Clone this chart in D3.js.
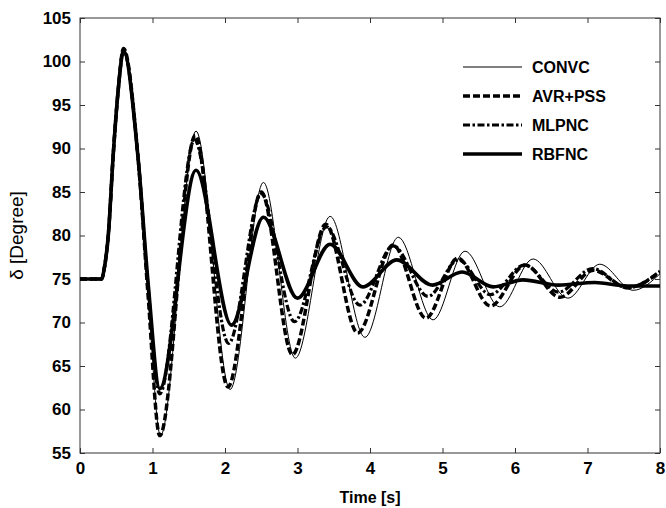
<!DOCTYPE html>
<html>
<head>
<meta charset="utf-8">
<script src="https://cdn.jsdelivr.net/npm/d3@7"></script>
<style>
  body { margin: 0; background: #fff; }
  text { font-family: "Liberation Sans", Arial, sans-serif; }
</style>
</head>
<body>
<div id="chart"></div>
<script>
// series: [time (s), delta (degree)]
const convc = [[0,75],[0.30,75],[0.33,76],[0.39,80],[0.46,89.5],[0.53,97],[0.60,101.5],[0.80,89],[0.94,73],[1.11,57],
  [1.60,92],[2.07,62.3],[2.53,86.1],[2.97,65.9],[3.45,82.2],[3.93,68.3],[4.39,79.8],[4.87,70.3],[5.31,78.2],
  [5.79,71.8],[6.25,77.3],[6.73,72.8],[7.17,76.7],[7.63,73.7],[8.0,75.6]];
const avrPss = [[0,75],[0.30,75],[0.33,76],[0.39,80],[0.46,89.5],[0.53,97],[0.60,101.5],[0.80,89],[0.94,73],[1.10,57],
  [1.59,91.5],[2.04,62.6],[2.50,85],[2.93,66.3],[3.39,81.3],[3.83,68.8],[4.32,78.9],[4.77,70.5],[5.21,77.4],
  [5.66,71.9],[6.14,76.6],[6.62,72.9],[7.08,76.0],[7.55,74.0],[8.0,75.8]];
const mlpnc = [[0,75],[0.30,75],[0.33,76],[0.39,80],[0.46,89.5],[0.53,97],[0.60,101.3],[0.80,89],[0.94,74],[1.10,61.8],
  [1.58,91],[2.05,67.6],[2.50,84.8],[2.96,70.1],[3.40,81],[3.86,72],[4.32,78.8],[4.80,73.0],[5.22,77.2],
  [5.66,73.2],[6.13,76.6],[6.60,73.5],[7.07,76.2],[7.55,74.0],[8.0,75.9]];
const rbfnc = [[0,75],[0.30,75],[0.33,76],[0.39,80],[0.46,89.5],[0.53,97],[0.60,101.2],[0.80,89],[0.94,74.5],[1.10,62.4],
  [1.60,87.5],[2.09,69.7],[2.53,82.1],[3.00,72.8],[3.45,79.0],[3.90,74.1],[4.37,77.2],[4.86,74.3],[5.27,75.8],
  [5.70,74.1],[6.11,74.9],[6.60,74.3],[7.10,74.6],[7.55,74.2],[8.0,74.2]];

const seriesNames = ['CONVC', 'AVR+PSS', 'MLPNC', 'RBFNC'];
const xTicks = [0, 1, 2, 3, 4, 5, 6, 7, 8];
const yTicks = [55, 60, 65, 70, 75, 80, 85, 90, 95, 100, 105];

const W = 666, H = 508;
const margin = {top: 18, right: 6, bottom: 55, left: 80};
const width = W - margin.left - margin.right;
const height = H - margin.top - margin.bottom;

const svg = d3.select('#chart').append('svg')
  .attr('width', W)
  .attr('height', H);
const g = svg.append('g')
  .attr('transform', 'translate(' + margin.left + ',' + margin.top + ')');

const x = d3.scaleLinear().domain([0, 8]).range([0, width]);
const y = d3.scaleLinear().domain([55, 105]).range([height, 0]);

// inward ticks on all sides
const tickLen = 5;
g.append('g')
  .attr('transform', 'translate(0,' + height + ')')
  .call(d3.axisBottom(x).tickValues(xTicks).tickSizeInner(-tickLen).tickSizeOuter(0).tickPadding(9))
  .call(a => a.selectAll('text').style('font-size', '17px').style('font-weight', 'bold').attr('fill', '#000'));
g.append('g')
  .call(d3.axisLeft(y).tickValues(yTicks).tickSizeInner(-tickLen).tickSizeOuter(0).tickPadding(9))
  .call(a => a.selectAll('text').style('font-size', '17px').style('font-weight', 'bold').attr('fill', '#000'));
g.append('g')
  .call(d3.axisTop(x).tickValues(xTicks).tickSizeInner(-tickLen).tickSizeOuter(0).tickFormat(''));
g.append('g')
  .attr('transform', 'translate(' + width + ',0)')
  .call(d3.axisRight(y).tickValues(yTicks).tickSizeInner(-tickLen).tickSizeOuter(0).tickFormat(''));
g.selectAll('.domain').remove();
g.selectAll('.tick line').attr('stroke', '#333');

g.append('rect')
  .attr('width', width)
  .attr('height', height)
  .attr('fill', 'none')
  .attr('stroke', '#333')
  .attr('stroke-width', 1);

const styles = [
  {w: 1, dash: null},
  {w: 3.5, dash: '7,3'},
  {w: 3.2, dash: '7,2.5,2.5,2.5'},
  {w: 3.6, dash: null}
];
const allSeries = [convc, avrPss, mlpnc, rbfnc];

const line = d3.line()
  .x(d => x(d[0]))
  .y(d => y(d[1]))
  .curve(d3.curveMonotoneX);

g.append('clipPath').attr('id', 'clip')
  .append('rect').attr('width', width).attr('height', height);

g.append('g').attr('clip-path', 'url(#clip)')
  .selectAll('path')
  .data(allSeries)
  .enter()
  .append('path')
  .attr('d', line)
  .attr('fill', 'none')
  .attr('stroke', '#000')
  .attr('stroke-width', (d, i) => styles[i].w)
  .attr('stroke-dasharray', (d, i) => styles[i].dash)
  .attr('stroke-linejoin', 'round');

// legend
const legend = g.append('g').attr('transform', 'translate(383,49)');
seriesNames.forEach(function(name, i) {
  const row = legend.append('g').attr('transform', 'translate(0,' + (i * 29) + ')');
  row.append('line')
    .attr('x1', 0).attr('x2', 59)
    .attr('stroke', '#000')
    .attr('stroke-width', styles[i].w)
    .attr('stroke-dasharray', styles[i].dash);
  row.append('text')
    .attr('x', 69)
    .attr('dy', '0.35em')
    .style('font-size', '16px')
    .style('font-weight', 'bold')
    .text(name);
});

// axis titles
svg.append('text')
  .attr('x', margin.left + width / 2)
  .attr('y', 503)
  .attr('text-anchor', 'middle')
  .style('font-size', '16px')
  .style('font-weight', 'bold')
  .text('Time [s]');
svg.append('text')
  .attr('transform', 'translate(23,' + (margin.top + height / 2) + ') rotate(-90)')
  .attr('text-anchor', 'middle')
  .style('font-size', '19px')
  .text('δ [Degree]');
</script>
</body>
</html>
